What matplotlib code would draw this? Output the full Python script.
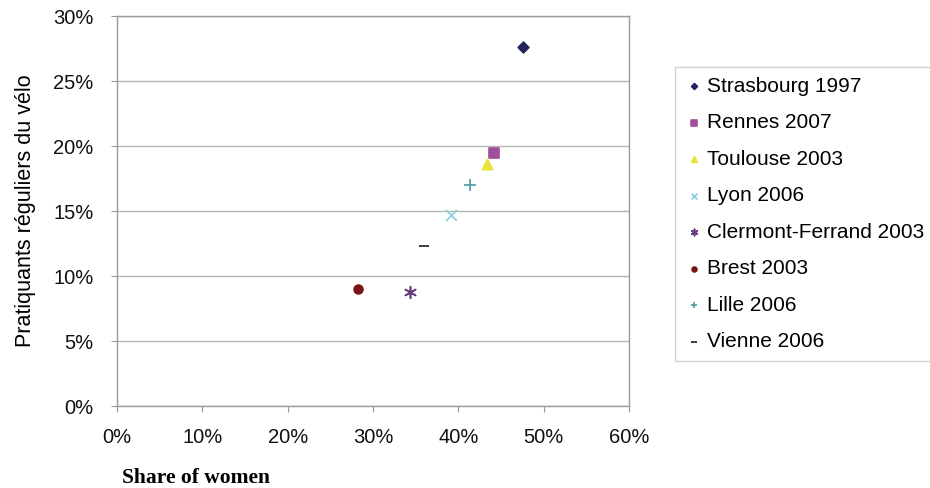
import matplotlib
matplotlib.use("Agg")
import matplotlib.pyplot as plt
from matplotlib.ticker import PercentFormatter

# Données
villes = ["Strasbourg 1997", "Rennes 2007", "Toulouse 2003", "Lyon 2006",
          "Clermont-Ferrand 2003", "Brest 2003", "Lille 2006", "Vienne 2006"]
part_femmes = [47.6, 44.2, 43.4, 39.2, 34.3, 28.2, 41.4, 36.0]
pratiquants = [27.6, 19.5, 18.6, 14.7, 8.8, 9.0, 17.0, 12.3]

marqueurs = ["D", "s", "^", "x", (6, 2, 0), "o", "+", "_"]
couleurs = ["#23235e", "#a0509a", "#e6e43a", "#86cfdc", "#6a3f80", "#7a1414", "#4f9aa4", "#1a1a1a"]
tailles = [30, 48, 55, 60, 70, 40, 70, 50]

plt.rcParams["font.family"] = ["Liberation Sans", "DejaVu Sans"]

fig = plt.figure(figsize=(9.3, 4.88), dpi=100)
ax = fig.add_axes([0.1258, 0.168, 0.5505, 0.799])

for v, x, y, m, c, s in zip(villes, part_femmes, pratiquants, marqueurs, couleurs, tailles):
    ax.scatter(x, y, marker=m, color=c, s=s, label=v, linewidths=1.2, zorder=3)

ax.set_xlim(0, 60)
ax.set_ylim(0, 30)
ax.set_xticks(range(0, 61, 10))
ax.set_yticks(range(0, 31, 5))
ax.xaxis.set_major_formatter(PercentFormatter(decimals=0))
ax.yaxis.set_major_formatter(PercentFormatter(decimals=0))
ax.tick_params(labelsize=14.5, colors="#999999", labelcolor="#111111", length=4, width=0.8)
ax.tick_params(axis="x", pad=12)
ax.tick_params(axis="y", pad=13)
ax.grid(axis="y", color="#b5b5b5", linewidth=1)
ax.set_axisbelow(True)
for sp in ax.spines.values():
    sp.set_color("#9a9a9a")
    sp.set_linewidth(1)

ax.set_ylabel("Pratiquants réguliers du vélo", fontsize=15.5, labelpad=12)

fig.text(0.131, 0.01, "Share of women", fontsize=15.5, fontweight="bold",
         family=["Liberation Serif", "DejaVu Serif"])

leg = fig.legend(loc="upper left", bbox_to_anchor=(0.726, 0.862), fontsize=15,
                 frameon=True, fancybox=False, edgecolor="#c8c8c8",
                 handlelength=0.9, handletextpad=0.2, labelspacing=0.84,
                 borderpad=0.45, borderaxespad=0, markerscale=0.55, scatterpoints=1)
leg.get_frame().set_linewidth(1)

fig.savefig("out.png", dpi=100)
